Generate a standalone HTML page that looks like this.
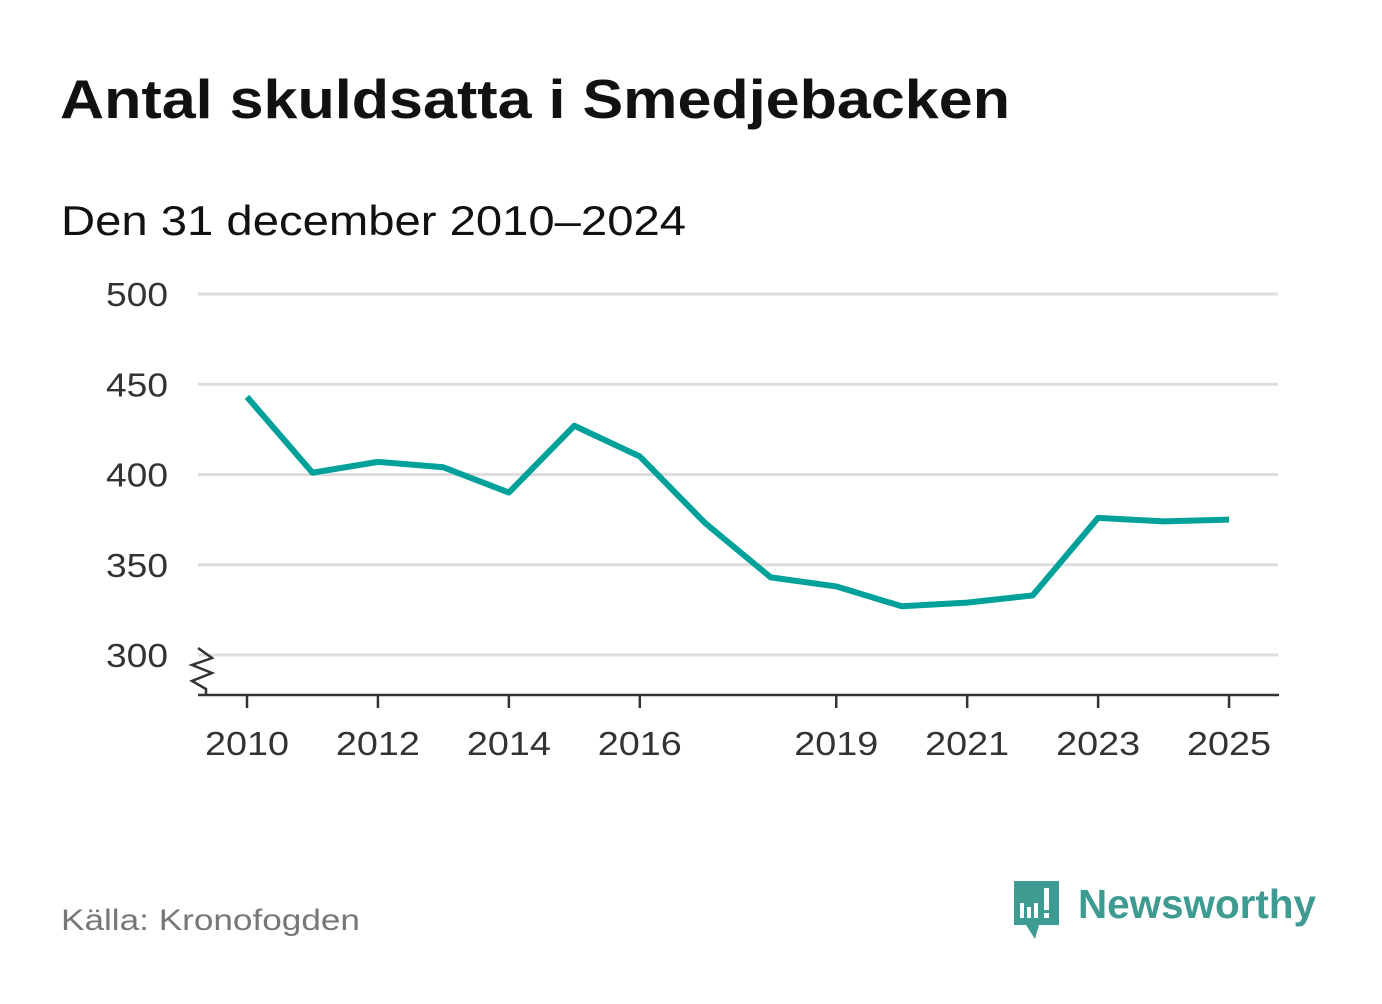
<!DOCTYPE html>
<html><head><meta charset="utf-8"><style>
body{margin:0;background:#fff;width:1382px;height:999px;overflow:hidden;font-family:"Liberation Sans","DejaVu Sans",sans-serif}
</style></head><body>
<svg width="1382" height="999" id="svg">
<text x="60" y="118" font-size="55" font-weight="bold" fill="#111" textLength="950" lengthAdjust="spacingAndGlyphs">Antal skuldsatta i Smedjebacken</text>
<text x="61" y="235" font-size="42" fill="#111" textLength="625" lengthAdjust="spacingAndGlyphs">Den 31 december 2010–2024</text>
<text x="61" y="930" font-size="30" fill="#777" textLength="299" lengthAdjust="spacingAndGlyphs">Källa: Kronofogden</text>
<g>
<path d="M1014 881h45v44h-20l-4 14l-9-14h-12z" fill="#3d9b91"/>
<rect x="1020" y="903" width="4" height="15" fill="#fff"/><rect x="1027" y="907" width="4" height="11" fill="#fff"/><rect x="1034" y="903" width="4" height="15" fill="#fff"/><rect x="1044" y="888" width="5" height="22" fill="#fff"/><rect x="1044" y="913" width="5" height="5" fill="#fff"/>
<text x="1078" y="918" font-size="41" font-weight="bold" fill="#3d9b91" textLength="238" lengthAdjust="spacingAndGlyphs">Newsworthy</text>
</g>
<g id="plot"></g>
</svg>
<script>
const years=[2010,2011,2012,2013,2014,2015,2016,2017,2018,2019,2020,2021,2022,2023,2024,2025];
const values=[443,401,407,404,390,427,410,373,343,338,327,329,333,376,374,375];
const yTicks=[300,350,400,450,500];
const xTicks=[2010,2012,2014,2016,2019,2021,2023,2025];
const x=v=>247+(v-2010)*65.47;
const y=v=>655-(v-300)*1.805;
const g=document.getElementById('plot');const ns='http://www.w3.org/2000/svg';
function mk(t,a){const e=document.createElementNS(ns,t);for(const k in a)e.setAttribute(k,a[k]);g.appendChild(e);return e;}
yTicks.forEach(t=>{
 const l=mk('line',{x1:198,x2:1278,y1:y(t),y2:y(t),stroke:'#ddd','stroke-width':3});
 
 
 const tx=mk('text',{x:168,y:y(t)+12,'font-size':33,fill:'#333','text-anchor':'end',textLength:62,lengthAdjust:'spacingAndGlyphs'});tx.textContent=t;
 
 
});
const ax=mk('line',{x1:198,x2:1279,y1:695,y2:695,stroke:'#333','stroke-width':2.5});


const br=mk('path',{d:'M198 648l14 10l-20 7l20 8l-20 8l14 8v6',fill:'none',stroke:'#333','stroke-width':2.5});


xTicks.forEach(t=>{
 const l=mk('line',{x1:x(t),x2:x(t),y1:695,y2:708,stroke:'#333','stroke-width':2.5});
 
 
 const tx=mk('text',{x:x(t),y:755,'font-size':33,fill:'#333','text-anchor':'middle',textLength:84,lengthAdjust:'spacingAndGlyphs'});tx.textContent=t;
 
 
});
const p=mk('polyline',{points:years.map((yr,i)=>x(yr)+','+y(values[i])).join(' '),fill:'none',stroke:'#00a19a','stroke-width':6,'stroke-linejoin':'round'});


</script>
</body></html>
